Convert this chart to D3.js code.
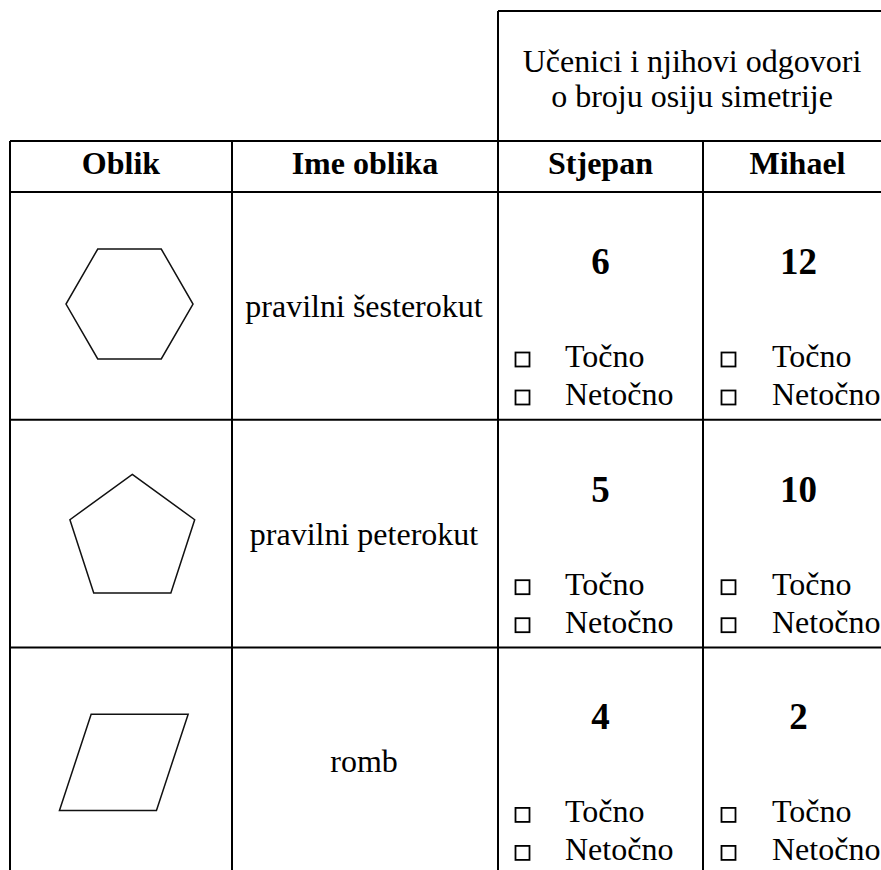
<!DOCTYPE html>
<html>
<head>
<meta charset="utf-8">
<script src="https://cdn.jsdelivr.net/npm/d3@7/dist/d3.min.js"></script>
<style>
  html, body { margin: 0; padding: 0; background: #fff; }
  svg { display: block; }
  text { font-family: "Liberation Serif", "Times New Roman", serif; fill: #000; }
</style>
</head>
<body>
<svg id="chart" width="881" height="870"></svg>
<script>
// ---------------- data ----------------
const columnHeaders = ["Oblik", "Ime oblika", "Stjepan", "Mihael"];
const groupTitle = ["Učenici i njihovi odgovori", "o broju osiju simetrije"];
const shapeTypes = ["hexagon", "pentagon", "rhombus"];
const shapeNames = ["pravilni šesterokut", "pravilni peterokut", "romb"];
const stjepanAnswers = [6, 5, 4];
const mihaelAnswers = [12, 10, 2];
const answerOptions = ["Točno", "Netočno"];
const students = ["Stjepan", "Mihael"];

// ---------------- layout ----------------
const W = 881, H = 870;
const svg = d3.select("#chart");
const colEdges = [10, 232, 498, 703, 890];
const titleTop = 11, headerTop = 141, bodyTop = 192, rowStep = 227.7;
const fs = 32;

const x = d3.scaleOrdinal().domain(columnHeaders).range(colEdges.slice(0, 4));
const colRight = d3.scaleOrdinal().domain(columnHeaders).range(colEdges.slice(1));
const y = d3.scaleBand().domain(shapeTypes)
  .range([bodyTop, bodyTop + rowStep * shapeTypes.length]).paddingInner(0).paddingOuter(0);
const cx = c => (x(c) + colRight(c)) / 2;

const lineW = 2;
const grid = svg.append("g").attr("stroke", "#000").attr("stroke-width", lineW);

// title cell
grid.append("line").attr("x1", x("Stjepan")).attr("x2", colEdges[4]).attr("y1", titleTop).attr("y2", titleTop);
grid.append("line").attr("x1", x("Stjepan")).attr("x2", x("Stjepan")).attr("y1", titleTop).attr("y2", headerTop);
// horizontal rules
const hLines = [headerTop, bodyTop].concat(shapeTypes.slice(1).map(s => y(s)));
grid.selectAll("line.h").data(hLines).join("line").attr("class", "h")
  .attr("x1", colEdges[0]).attr("x2", colEdges[4]).attr("y1", d => d).attr("y2", d => d);
// vertical rules
grid.selectAll("line.v").data(colEdges).join("line").attr("class", "v")
  .attr("x1", d => d).attr("x2", d => d).attr("y1", headerTop).attr("y2", H + 10);

// group title
svg.append("g").selectAll("text").data(groupTitle).join("text")
  .attr("x", (x("Stjepan") + colEdges[4]) / 2 - 2)
  .attr("y", (d, i) => 72 + i * 34.5)
  .attr("text-anchor", "middle").attr("font-size", fs).text(d => d);

// header
svg.append("g").selectAll("text").data(columnHeaders).join("text")
  .attr("x", d => cx(d) + (d === "Mihael" ? 1 : 0))
  .attr("y", 174)
  .attr("text-anchor", "middle").attr("font-size", fs).attr("font-weight", "bold").text(d => d);

// rows
const rows = svg.append("g").selectAll("g.row").data(shapeTypes.map((t, i) => ({
  type: t, name: shapeNames[i], answers: [stjepanAnswers[i], mihaelAnswers[i]]
}))).join("g").attr("class", "row").attr("transform", d => `translate(0,${y(d.type)})`);

// shapes
const shapeStyle = {
  hexagon: { dx: 8.5, dy: 112, r: 63.5 },
  pentagon: { dx: 11.3, dy: 114, r: 65.6 },
  rhombus: { dx: 2.8, dy: 115, w: 97, h: 96.3, skew: 31.7 }
};
function shapePoints(type) {
  const s = shapeStyle[type];
  if (type === "hexagon") {
    return d3.range(6).map(k => {
      const a = k * Math.PI / 3;
      return [s.r * Math.cos(a), s.r * Math.sin(a)];
    });
  }
  if (type === "pentagon") {
    const pts = d3.range(5).map(k => {
      const a = -Math.PI / 2 + k * 2 * Math.PI / 5;
      return [s.r * Math.cos(a), s.r * Math.sin(a)];
    });
    const ys = pts.map(p => p[1]);
    const mid = (d3.min(ys) + d3.max(ys)) / 2;
    return pts.map(p => [p[0], p[1] - mid]);
  }
  const hw = (s.w + s.skew) / 2, hh = s.h / 2;
  return [[-hw + s.skew, -hh], [hw, -hh], [hw - s.skew, hh], [-hw, hh]];
}
rows.append("polygon")
  .attr("points", d => shapePoints(d.type).map(p => [p[0] + cx("Oblik") + shapeStyle[d.type].dx, p[1] + shapeStyle[d.type].dy].join(",")).join(" "))
  .attr("fill", "none").attr("stroke", "#111").attr("stroke-width", 1.5).attr("stroke-linejoin", "miter");

// names
rows.append("text").attr("x", cx("Ime oblika") - 1).attr("y", 125)
  .attr("text-anchor", "middle").attr("font-size", fs).text(d => d.name);

// answers
students.forEach((st, si) => {
  const g = rows.append("g");
  g.append("text").attr("x", cx(st) + (si === 1 ? 2 : 0)).attr("y", 82)
    .attr("text-anchor", "middle").attr("font-size", 37).attr("font-weight", "bold")
    .text(d => d.answers[si]);
  answerOptions.forEach((opt, oi) => {
    const base = 175 + oi * 38;
    g.append("rect").attr("x", x(st) + 17.5 + si).attr("y", base - 14.5)
      .attr("width", 14).attr("height", 14)
      .attr("fill", "none").attr("stroke", "#000").attr("stroke-width", 1.8);
    g.append("text").attr("x", x(st) + 67 + si * 2).attr("y", base)
      .attr("font-size", fs).text(opt);
  });
});
</script>
</body>
</html>
